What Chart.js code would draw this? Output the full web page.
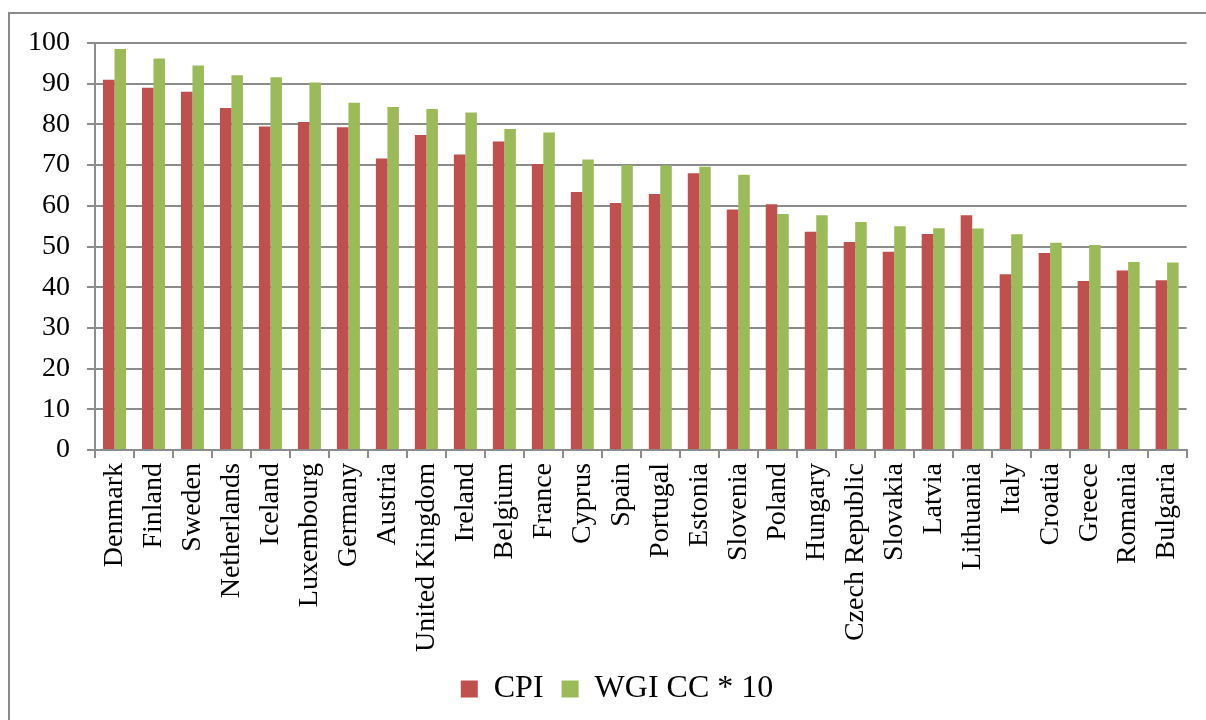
<!DOCTYPE html>
<html>
<head>
<meta charset="utf-8">
<script src="https://cdn.jsdelivr.net/npm/chart.js@4"></script>
<style>
  html, body { margin: 0; padding: 0; background: #fff; overflow: hidden; }
  #frame {
    position: absolute; left: 8px; top: 12px;
    width: 1300px; height: 800px;
    border: 2px solid #8a8a8a;
  }
  #wrap { position: absolute; left: 0; top: 0; width: 1206px; height: 720px; }
</style>
</head>
<body>
<div id="frame"></div>
<div id="wrap"><canvas id="chart"></canvas></div>
<script>
'use strict';

// countries, ordered as in the figure
const countries = [
  'Denmark', 'Finland', 'Sweden', 'Netherlands', 'Iceland', 'Luxembourg', 'Germany',
  'Austria', 'United Kingdom', 'Ireland', 'Belgium', 'France', 'Cyprus', 'Spain',
  'Portugal', 'Estonia', 'Slovenia', 'Poland', 'Hungary', 'Czech Republic', 'Slovakia',
  'Latvia', 'Lithuania', 'Italy', 'Croatia', 'Greece', 'Romania', 'Bulgaria'
];

// CPI score
const cpi = [
  91, 89, 88, 84, 79.5, 80.6, 79.3,
  71.6, 77.4, 72.6, 75.8, 70.3, 63.4, 60.7,
  62.9, 68, 59.1, 60.4, 53.6, 51.1, 48.7,
  53.1, 57.7, 43.2, 48.4, 41.5, 44.1, 41.7
];

// World Governance Indicator, control of corruption, times ten
const wgi = [
  98.5, 96.2, 94.5, 92.1, 91.6, 90.3, 85.3,
  84.3, 83.8, 82.9, 78.9, 78, 71.4, 70,
  69.9, 69.6, 67.6, 58, 57.7, 56, 55,
  54.5, 54.4, 53, 50.9, 50.4, 46.2, 46.1
];

const seriesNames = ['CPI', 'WGI CC * 10'];
const yTicks = { min: 0, max: 100, step: 10 };

const FONT = 'Liberation Serif, "Times New Roman", serif';
const GRID = '#8c8c8c';

// the legend sits a bit right of the canvas centre in the original
const legendShift = {
  id: 'legendShift',
  afterLayout(chart) {
    chart.legend.left += 22;
    chart.legend.right += 22;
  }
};

new Chart(document.getElementById('chart'), {
  type: 'bar',
  data: {
    labels: countries,
    datasets: [
      { label: seriesNames[0], data: cpi, backgroundColor: '#C0504D' },
      { label: seriesNames[1], data: wgi, backgroundColor: '#9BBB59' }
    ]
  },
  options: {
    responsive: true,
    maintainAspectRatio: false,
    animation: false,
    layout: { padding: { top: 43, right: 16, bottom: 5, left: 0 } },
    datasets: {
      bar: { barPercentage: 1, categoryPercentage: 0.59 }
    },
    plugins: {
      tooltip: { enabled: false },
      legend: {
        position: 'bottom',
        labels: {
          boxWidth: 17,
          boxHeight: 17,
          padding: 18,
          color: '#000',
          font: { family: FONT, size: 32 }
        }
      }
    },
    scales: {
      x: {
        offset: true,
        afterFit: scale => { scale.height -= 2; },
        grid: {
          offset: true,
          drawOnChartArea: false,
          color: GRID,
          lineWidth: 2,
          tickLength: 8
        },
        border: { color: GRID, width: 2 },
        ticks: {
          minRotation: 90,
          maxRotation: 90,
          autoSkip: false,
          padding: 5,
          color: '#000',
          font: { family: FONT, size: 28 }
        }
      },
      y: {
        min: yTicks.min,
        max: yTicks.max,
        // pin the axis line at x = 95
        afterFit: scale => { scale.width = 95; },
        grid: { color: GRID, lineWidth: 2, tickLength: 8 },
        border: { color: GRID, width: 2 },
        ticks: {
          stepSize: yTicks.step,
          padding: 17,
          color: '#000',
          font: { family: FONT, size: 28 }
        }
      }
    }
  },
  plugins: [legendShift]
});
</script>
</body>
</html>
